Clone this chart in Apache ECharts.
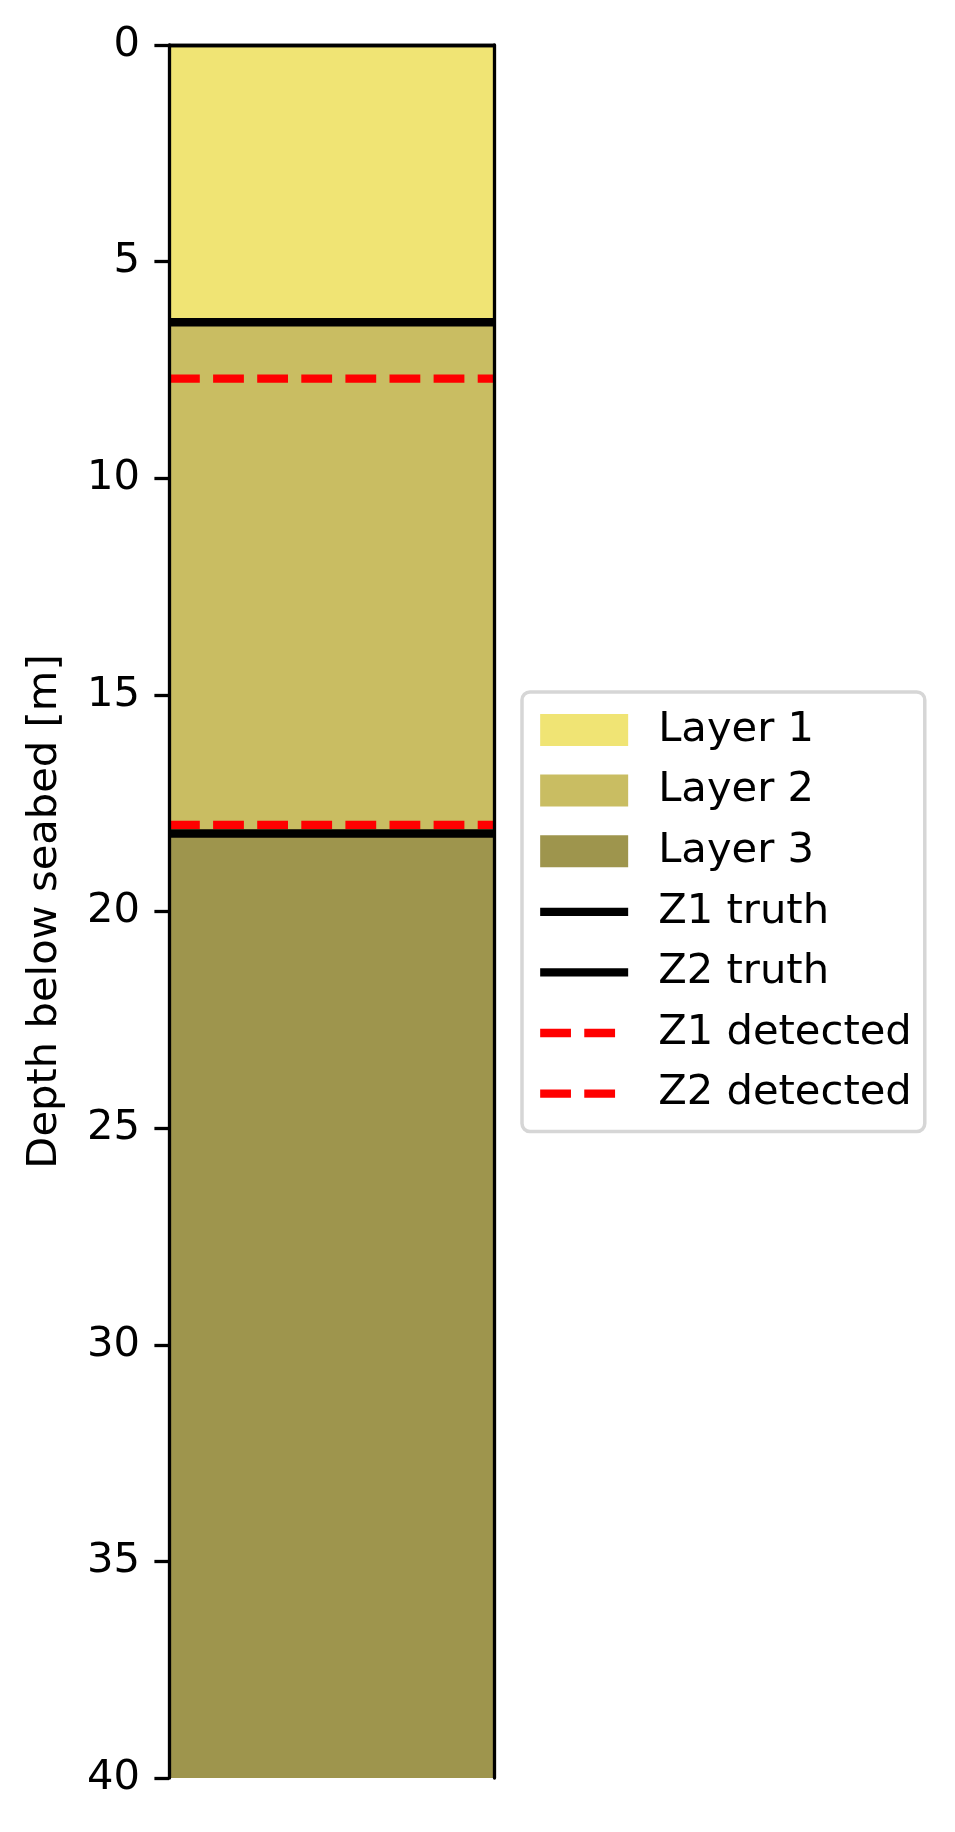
<!DOCTYPE html>
<html><head><meta charset="utf-8">
<script src="https://cdn.jsdelivr.net/npm/echarts@6/dist/echarts.min.js"></script>
<style>html,body{margin:0;padding:0;background:#fff}#c{width:955px;height:1832px}</style>
</head><body><div id="c"></div><script>
// ---- data ----
const layerNames = ['Layer 1', 'Layer 2', 'Layer 3'];
const layerTops = [0, 6.4, 18.2];
const layerBottoms = [6.4, 18.2, 40];
const layerColors = ['#F0E474', '#C9BD62', '#9E954D'];
const interfaceNames = ['Z1 truth', 'Z2 truth', 'Z1 detected', 'Z2 detected'];
const interfaceDepths = [6.4, 18.2, 7.7, 18.0];
const interfaceColors = ['#000000', '#000000', '#ff0000', '#ff0000'];
const interfaceDashed = [false, false, true, true];
const depthMin = 0, depthMax = 40, depthStep = 5;
const yLabel = 'Depth below seabed [m]';

// ---- chart ----
const FONT = 'DejaVu Sans';
const FS = 41.67;
const LW = 8.33;
const SPINE = 3.3;
const chart = echarts.init(document.getElementById('c'), null, {renderer: 'canvas'});

const series = [];
layerNames.forEach((n, i) => {
  series.push({
    name: n, type: 'bar', stack: 'layers', xAxisIndex: 0, yAxisIndex: 0,
    barWidth: '100%', barCategoryGap: 0,
    itemStyle: {color: layerColors[i]},
    data: [layerBottoms[i] - layerTops[i]],
    silent: true, animation: false
  });
});
interfaceNames.forEach((n, i) => {
  series.push({
    name: n, type: 'line', xAxisIndex: 1, yAxisIndex: 0,
    symbol: 'none', silent: true, animation: false,
    lineStyle: {color: interfaceColors[i], width: LW, type: interfaceDashed[i] ? [30.8, 13.3] : 'solid', cap: 'butt'},
    itemStyle: {color: interfaceColors[i]},
    data: [[0, interfaceDepths[i]], [1, interfaceDepths[i]]]
  });
});

const legendData = layerNames.map(n => ({name: n, icon: 'rect'}))
  .concat(interfaceNames.map(n => ({name: n, itemStyle: {opacity: 0}})));

const spineAxis = {show: true, lineStyle: {color: '#000', width: SPINE}};

chart.setOption({
  animation: false,
  backgroundColor: '#ffffff',
  grid: {left: 169, top: 45, width: 325, height: 1733, show: false},
  xAxis: [
    {type: 'category', data: [''], position: 'bottom', z: 10,
     axisLine: spineAxis, axisTick: {show: false}, axisLabel: {show: false}, splitLine: {show: false}},
    {type: 'value', min: 0, max: 1, position: 'top', z: 10,
     axisLine: spineAxis, axisTick: {show: false}, axisLabel: {show: false}, splitLine: {show: false}}
  ],
  yAxis: [
    {type: 'value', inverse: true, min: depthMin, max: depthMax, interval: depthStep, position: 'left', z: 10,
     axisLine: spineAxis,
     axisTick: {show: true, length: 14.6, lineStyle: {color: '#000', width: SPINE}},
     axisLabel: {show: true, margin: 29, fontSize: FS, fontFamily: FONT, color: '#000'},
     splitLine: {show: false},
     name: yLabel, nameLocation: 'middle', nameRotate: 90, nameGap: 103,
     nameTextStyle: {fontSize: FS, fontFamily: FONT, color: '#000'}},
    {type: 'value', inverse: true, min: depthMin, max: depthMax, interval: depthStep, position: 'right', z: 10,
     axisLine: spineAxis, axisTick: {show: false}, axisLabel: {show: false}, splitLine: {show: false}}
  ],
  legend: {
    show: true, orient: 'vertical', left: 522, top: 692,
    data: legendData, selectedMode: false,
    itemWidth: 88, itemHeight: 32, itemGap: 18.6,
    padding: [17, 13, 17, 14],
    backgroundColor: '#ffffff', borderColor: '#d6d6d6', borderWidth: 3.5, borderRadius: 8,
    lineStyle: {width: LW},
    textStyle: {fontSize: FS, fontFamily: FONT, color: '#000', lineHeight: 32, padding: [0, 0, 0, 25]}
  },
  series: series
});
</script></body></html>
